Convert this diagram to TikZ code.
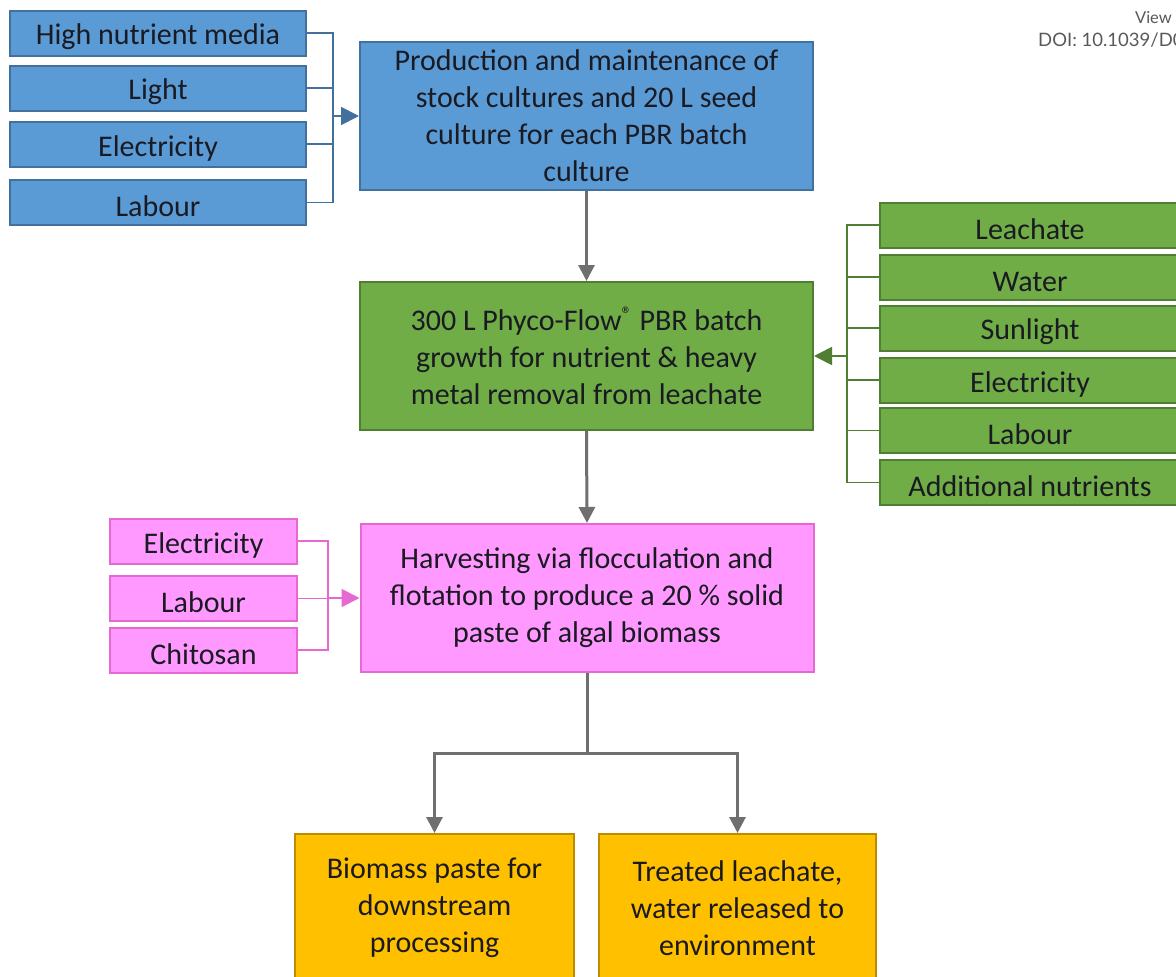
\documentclass[tikz,border=0pt]{standalone}
\usepackage{fontspec}
\setmainfont{Carlito}
\newfontfamily\latofont{Lato}
\usetikzlibrary{arrows.meta,calc}
\definecolor{bfill}{HTML}{5B9BD5}
\definecolor{bline}{HTML}{41719C}
\definecolor{gfill}{HTML}{70AD47}
\definecolor{gline}{HTML}{507E32}
\definecolor{pfill}{HTML}{FF99FF}
\definecolor{pline}{HTML}{E669D2}
\definecolor{ofill}{HTML}{FFC000}
\definecolor{oline}{HTML}{BC8C00}
\definecolor{arrgray}{HTML}{6F6F6F}
\definecolor{txtdark}{HTML}{1A1A22}
\tikzset{
  boxbase/.style={draw, line width=2pt, inner sep=0pt, align=center, text=txtdark,
    font=\fontsize{30}{37}\selectfont, execute at begin node={\rule{0pt}{29pt}}},
  bluebox/.style={boxbase, fill=bfill, draw=bline},
  greenbox/.style={boxbase, fill=gfill, draw=gline},
  pinkbox/.style={boxbase, fill=pfill, draw=pline},
  orangebox/.style={boxbase, fill=ofill, draw=oline},
  inbox/.style={minimum height=45pt},
  mainbox/.style={minimum width=453pt, minimum height=148pt},
  grayarr/.style={draw=arrgray, line width=3pt, -{Triangle[length=16pt,width=16pt]}},
  bracket/.style={line width=1.8pt},
}
\begin{document}
\begin{tikzpicture}[x=1pt,y=-1pt]
\clip (0,0) rectangle (1176,977);
\fill[white] (0,0) rectangle (1176,977);
% header text
\node[anchor=east, inner sep=0pt, text=black!65, font=\latofont\fontsize{16.5}{18}\selectfont] (view) at (1172,18) {View};
\node[anchor=west, inner sep=0pt, text=black!65, font=\latofont\fontsize{18.5}{20}\selectfont] (doi) at (1038,40) {DOI: 10.1039/D0};
% blue inputs
\node[bluebox, inbox, minimum width=296pt] (b1) at (158,33) {High nutrient media};
\node[bluebox, inbox, minimum width=296pt] (b2) at (158,88) {Light};
\node[bluebox, inbox, minimum width=296pt] (b3) at (158,144) {Electricity};
\node[bluebox, inbox, minimum width=296pt] (b4) at (158,202.5) {Labour};
\node[bluebox, mainbox] (bm) at (586.5,116) {Production and maintenance of\\stock cultures and 20 L seed\\culture for each PBR batch\\culture};
% green
\node[greenbox, mainbox] (gm) at (586.5,356) {300 L Phyco-Flow\textsuperscript{®} PBR batch\\growth for nutrient \& heavy\\metal removal from leachate};
\node[greenbox, inbox, minimum width=300pt] (g1) at (1030,225) {Leachate};
\node[greenbox, inbox, minimum width=300pt] (g2) at (1030,277) {Water};
\node[greenbox, inbox, minimum width=300pt] (g3) at (1030,328) {Sunlight};
\node[greenbox, inbox, minimum width=300pt] (g4) at (1030,380) {Electricity};
\node[greenbox, inbox, minimum width=300pt] (g5) at (1030,430.5) {Labour};
\node[greenbox, inbox, minimum width=300pt] (g6) at (1030,482.5) {Additional nutrients};
% pink
\node[pinkbox, mainbox] (pm) at (587,598) {Harvesting via flocculation and\\flotation to produce a 20 \% solid\\paste of algal biomass};
\node[pinkbox, inbox, minimum width=187pt] (p1) at (203.5,541) {Electricity};
\node[pinkbox, inbox, minimum width=187pt] (p2) at (203.5,598.5) {Labour};
\node[pinkbox, inbox, minimum width=187pt] (p3) at (203.5,650) {Chitosan};
% orange
\node[orangebox, minimum width=279pt, minimum height=148pt] (o1) at (434.5,908) {Biomass paste for\\downstream\\processing};
\node[orangebox, minimum width=277pt, minimum height=148pt] (o2) at (737.5,908) {Treated leachate,\\water released to\\environment};
% blue bracket
\coordinate (bj) at (333,116);
\draw[bracket, draw=bline] (b1.east) -| (bj) |- (b4.east);
\draw[bracket, draw=bline] (b2.east) -- (b2.east -| bj);
\draw[bracket, draw=bline] (b3.east) -- (b3.east -| bj);
\draw[bracket, draw=bline, -{Triangle[length=18pt,width=18pt]}] (bj) -- (bm.west);
% green bracket
\coordinate (gj) at (847,356);
\draw[bracket, draw=gline] (g1.west) -| (gj) |- (g6.west);
\foreach \n in {g2,g3,g4,g5} \draw[bracket, draw=gline] (\n.west) -- (\n.west -| gj);
\draw[bracket, draw=gline, -{Triangle[length=18pt,width=18pt]}] (gj) -- (gm.east);
% pink bracket
\coordinate (pj) at (328,598);
\draw[bracket, draw=pline] (p1.east) -| (pj) |- (p3.east);
\draw[bracket, draw=pline] (p2.east) -- (p2.east -| pj);
\draw[bracket, draw=pline, -{Triangle[length=18pt,width=18pt]}] (pj) -- (pm.west);
% gray arrows
\draw[grayarr] (bm.south) -- (gm.north);
\draw[grayarr] (gm.south) -- (pm.north);
\coordinate (split) at (587,753);
\draw[draw=arrgray, line width=3pt] (pm.south) -- (split);
\draw[grayarr] (split) -| (o1.north);
\draw[grayarr] (split) -| (o2.north);
\end{tikzpicture}
\end{document}
